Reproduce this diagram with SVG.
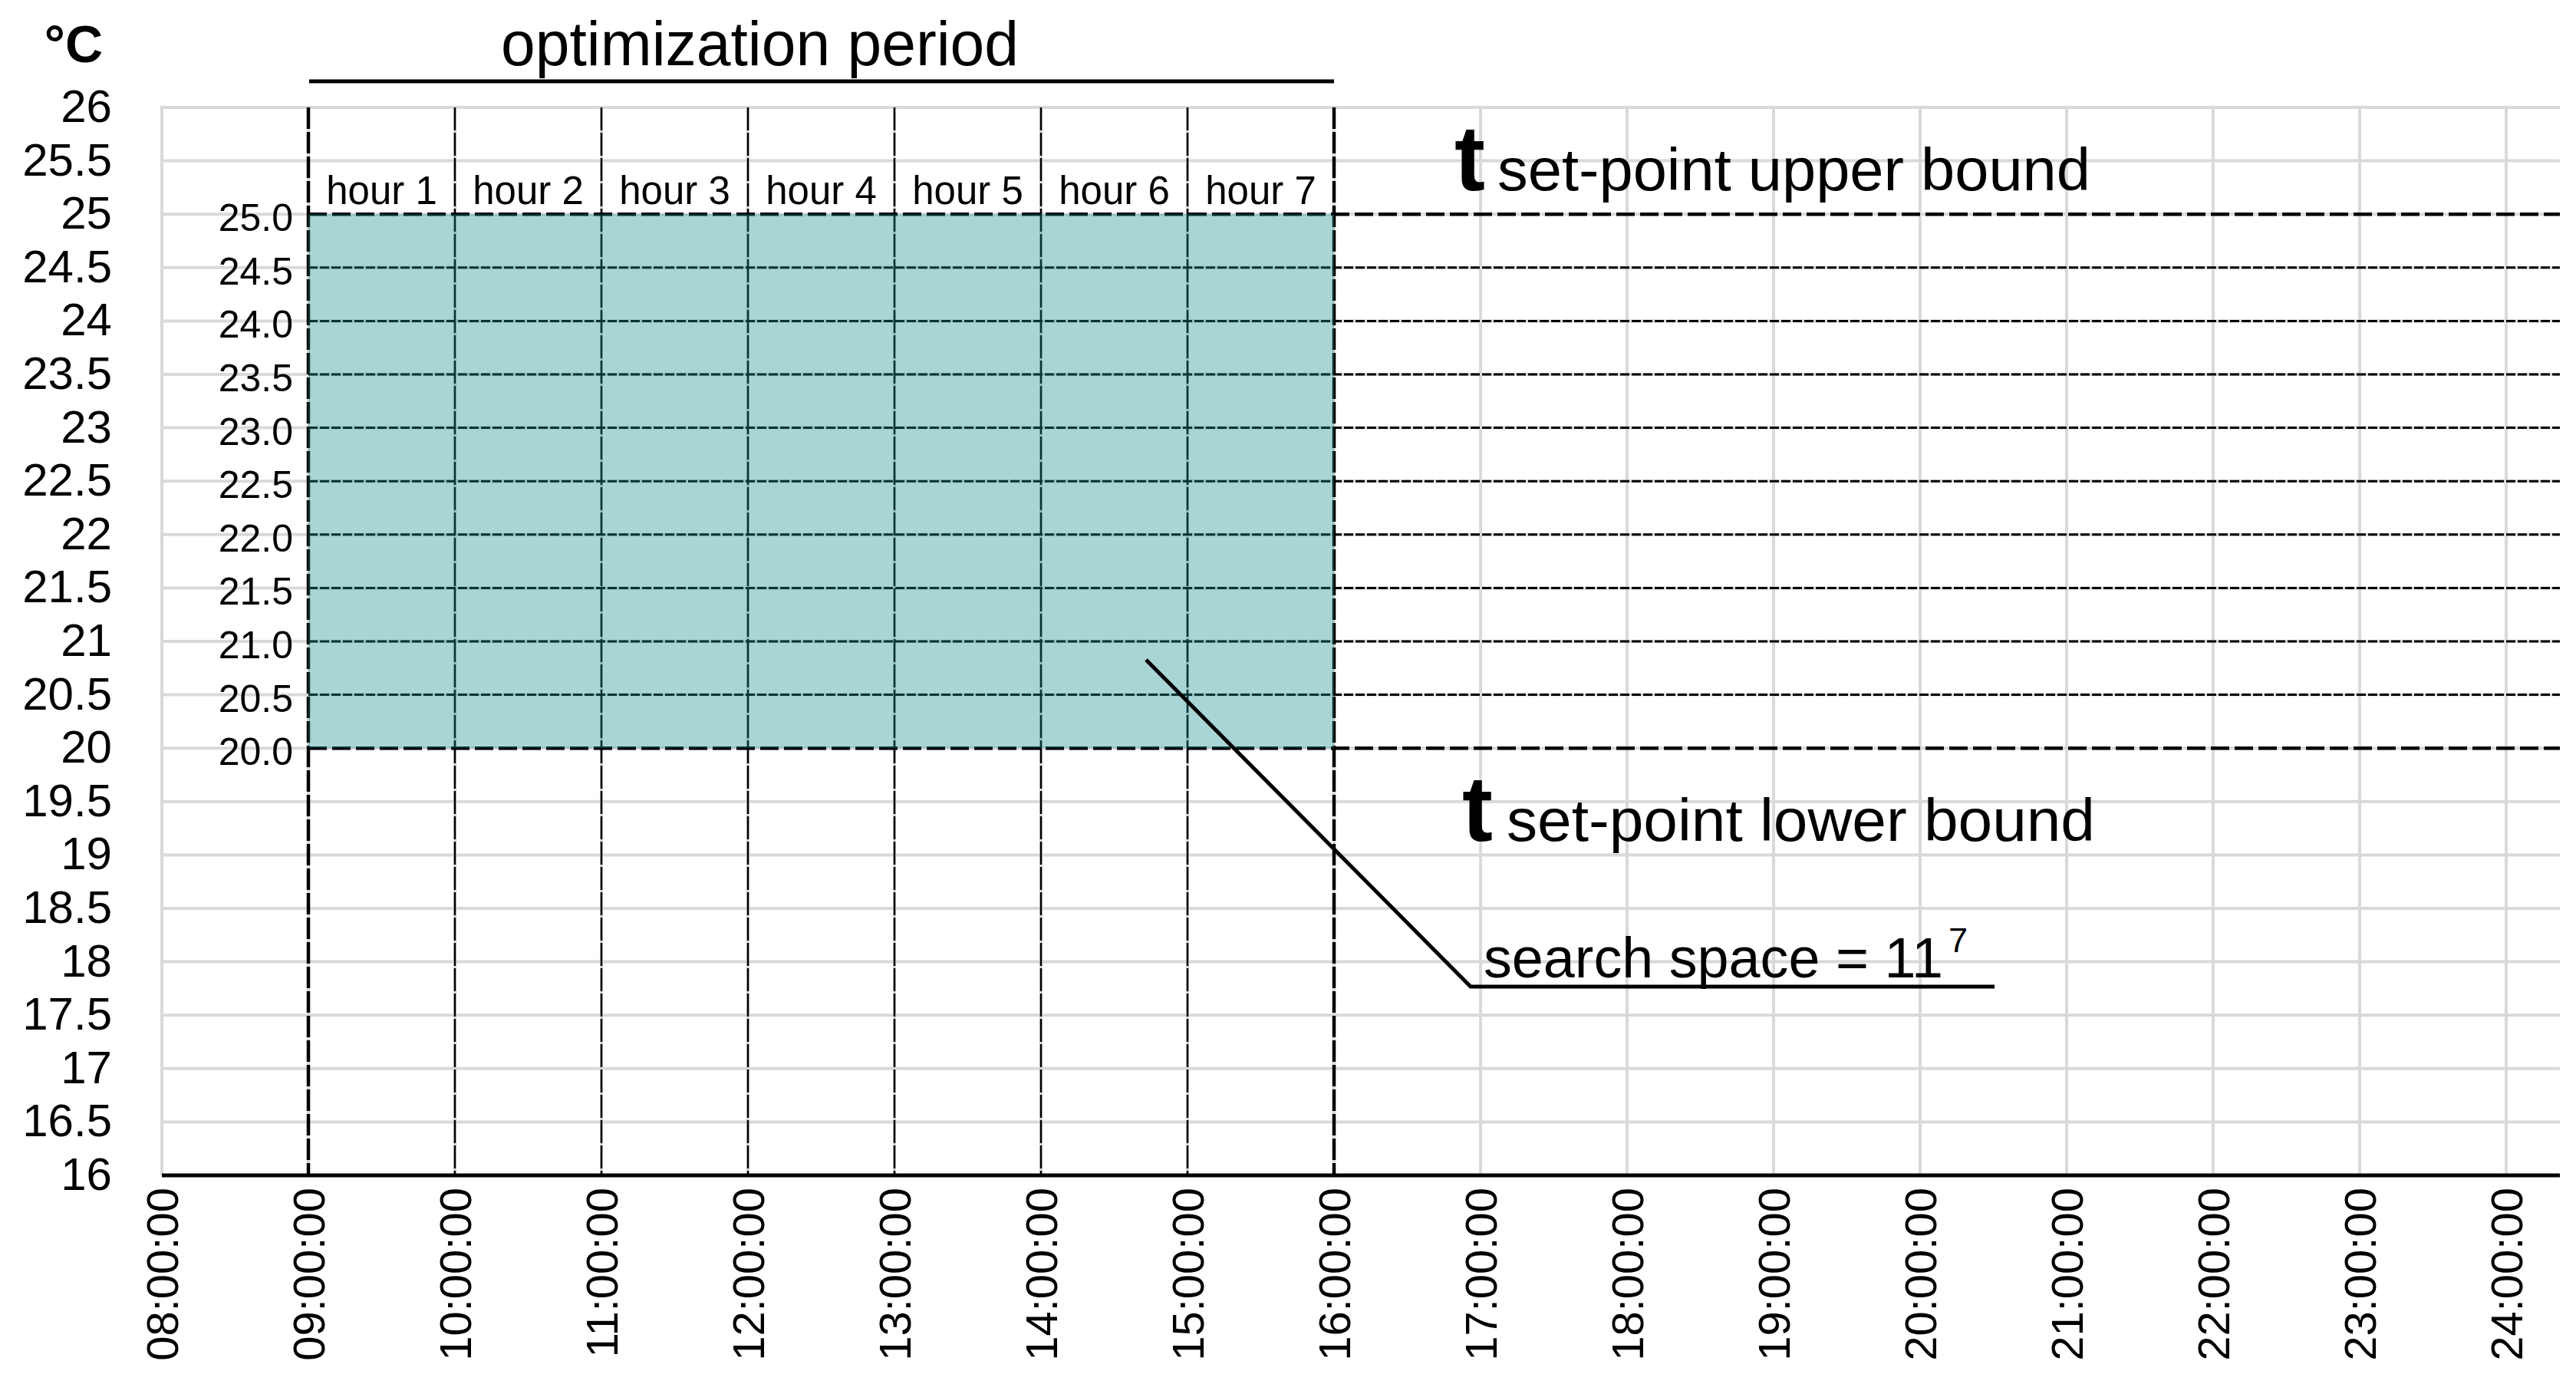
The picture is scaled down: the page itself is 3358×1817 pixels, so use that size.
<svg xmlns="http://www.w3.org/2000/svg" width="3358" height="1817" viewBox="0 0 3358 1817">
<style>
.g{stroke:#d9d9d9;stroke-width:4;fill:none}
.lab{font-family:"Liberation Sans",Arial,sans-serif;fill:#000}
.yl{font-size:60px;text-anchor:end}
.il{font-size:50px;text-anchor:end}
.hl{font-size:51px;text-anchor:middle}
.xl{font-size:58px;text-anchor:end}
.thickv{stroke:#000;stroke-width:4.5;stroke-dasharray:28 4;fill:none}
.thinv{stroke:#000;stroke-width:2.5;stroke-dasharray:30 3;fill:none}
.thickh{stroke:#000;stroke-width:4.5;stroke-dasharray:24 7;fill:none}
.thinh{stroke:#000;stroke-width:3;stroke-dasharray:12 3;fill:none}
</style>
<rect x="0" y="0" width="3358" height="1817" fill="#fff"/>
<g id="grid">
<path class="g" d="M211 140H3337M211 209.6H3337M211 279.2H3337M211 348.8H3337M211 418.4H3337M211 488H3337M211 557.6H3337M211 627.2H3337M211 696.8H3337M211 766.4H3337M211 836H3337M211 905.6H3337M211 975.2H3337M211 1044.8H3337M211 1114.4H3337M211 1184H3337M211 1253.6H3337M211 1323.2H3337M211 1392.8H3337M211 1462.4H3337"/>
<path class="g" d="M211 138V1532M402 140V1532M593 140V1532M784 140V1532M975 140V1532M1166 140V1532M1357 140V1532M1548 140V1532M1739 140V1532M1930 140V1532M2121 140V1532M2312 140V1532M2503 140V1532M2694 140V1532M2885 140V1532M3076 140V1532M3267 140V1532"/>
</g>
<g id="setpoint-lines">
<path class="thinh" d="M402 348.8H3337M402 418.4H3337M402 488H3337M402 557.6H3337M402 627.2H3337M402 696.8H3337M402 766.4H3337M402 836H3337M402 905.6H3337"/>
<path class="thickh" d="M402 279.2H3337M402 975.2H3337"/>
<path class="thinv" d="M593 140V1530M784 140V1530M975 140V1530M1166 140V1530M1357 140V1530M1548 140V1530"/>
<path class="thickv" d="M402 140V1530M1739 140V1530"/>
</g>
<rect id="search-space" x="402" y="279.2" width="1337" height="696" fill="rgb(23,141,139)" fill-opacity="0.37"/>
<g id="x-axis">
<path d="M211 1532H3337" stroke="#000" stroke-width="5"/>
</g>
<g id="y-labels" class="lab yl">
<text x="146" y="159">26</text>
<text x="146" y="228.6">25.5</text>
<text x="146" y="298.2">25</text>
<text x="146" y="367.8">24.5</text>
<text x="146" y="437.4">24</text>
<text x="146" y="507">23.5</text>
<text x="146" y="576.6">23</text>
<text x="146" y="646.2">22.5</text>
<text x="146" y="715.8">22</text>
<text x="146" y="785.4">21.5</text>
<text x="146" y="855">21</text>
<text x="146" y="924.6">20.5</text>
<text x="146" y="994.2">20</text>
<text x="146" y="1063.8">19.5</text>
<text x="146" y="1133.4">19</text>
<text x="146" y="1203">18.5</text>
<text x="146" y="1272.6">18</text>
<text x="146" y="1342.2">17.5</text>
<text x="146" y="1411.8">17</text>
<text x="146" y="1481.4">16.5</text>
<text x="146" y="1551">16</text>
</g>
<text id="unit" class="lab" x="134" y="81" font-size="68" font-weight="bold" text-anchor="end">°C</text>
<g id="inner-labels" class="lab il">
<text x="382" y="301.2">25.0</text>
<text x="382" y="370.8">24.5</text>
<text x="382" y="440.4">24.0</text>
<text x="382" y="510">23.5</text>
<text x="382" y="579.6">23.0</text>
<text x="382" y="649.2">22.5</text>
<text x="382" y="718.8">22.0</text>
<text x="382" y="788.4">21.5</text>
<text x="382" y="858">21.0</text>
<text x="382" y="927.6">20.5</text>
<text x="382" y="997.2">20.0</text>
</g>
<g id="hour-labels" class="lab hl">
<text x="497.5" y="266">hour 1</text>
<text x="688.5" y="266">hour 2</text>
<text x="879.5" y="266">hour 3</text>
<text x="1070.5" y="266">hour 4</text>
<text x="1261.5" y="266">hour 5</text>
<text x="1452.5" y="266">hour 6</text>
<text x="1643.5" y="266">hour 7</text>
</g>
<g id="x-labels" class="lab xl">
<text transform="translate(232,1548) rotate(-90)">08:00:00</text>
<text transform="translate(423,1548) rotate(-90)">09:00:00</text>
<text transform="translate(614,1548) rotate(-90)">10:00:00</text>
<text transform="translate(805,1548) rotate(-90)">11:00:00</text>
<text transform="translate(996,1548) rotate(-90)">12:00:00</text>
<text transform="translate(1187,1548) rotate(-90)">13:00:00</text>
<text transform="translate(1378,1548) rotate(-90)">14:00:00</text>
<text transform="translate(1569,1548) rotate(-90)">15:00:00</text>
<text transform="translate(1760,1548) rotate(-90)">16:00:00</text>
<text transform="translate(1951,1548) rotate(-90)">17:00:00</text>
<text transform="translate(2142,1548) rotate(-90)">18:00:00</text>
<text transform="translate(2333,1548) rotate(-90)">19:00:00</text>
<text transform="translate(2524,1548) rotate(-90)">20:00:00</text>
<text transform="translate(2715,1548) rotate(-90)">21:00:00</text>
<text transform="translate(2906,1548) rotate(-90)">22:00:00</text>
<text transform="translate(3097,1548) rotate(-90)">23:00:00</text>
<text transform="translate(3288,1548) rotate(-90)">24:00:00</text>
</g>
<g id="optimization-period">
<text class="lab" x="653" y="85" font-size="82" textLength="675" lengthAdjust="spacingAndGlyphs">optimization period</text>
<path d="M403 106H1739" stroke="#000" stroke-width="5"/>
</g>
<g id="upper-bound" class="lab">
<text x="1896" y="248" font-size="120" font-weight="bold">t</text>
<text x="1952" y="248" font-size="78" textLength="773" lengthAdjust="spacingAndGlyphs">set-point upper bound</text>
</g>
<g id="lower-bound" class="lab">
<text x="1906" y="1096" font-size="120" font-weight="bold">t</text>
<text x="1964" y="1096" font-size="78" textLength="767" lengthAdjust="spacingAndGlyphs">set-point lower bound</text>
</g>
<g id="connectors">
<path d="M1494 860L1917 1286H2600" stroke="#000" stroke-width="5" fill="none"/>
</g>
<g id="search-space-label" class="lab">
<text x="1934" y="1274" font-size="75" textLength="599" lengthAdjust="spacingAndGlyphs">search space = 11</text>
<text x="2540" y="1241" font-size="45">7</text>
</g>
</svg>
